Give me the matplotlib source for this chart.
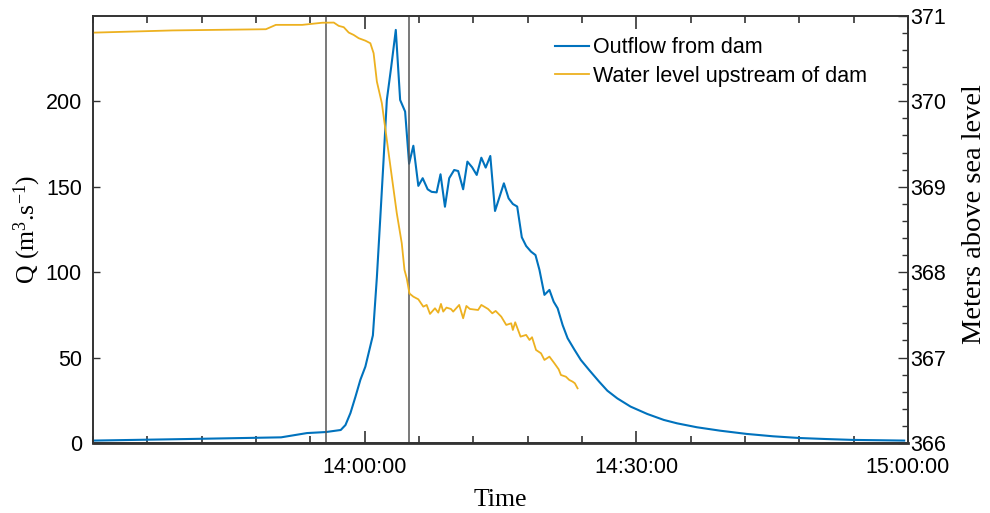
import numpy as np
import pandas as pd
import matplotlib
matplotlib.use("Agg")
import matplotlib.pyplot as plt
import matplotlib.dates as mdates
from matplotlib.ticker import MultipleLocator, FixedLocator

# outflow from dam, minutes after 13:30 and discharge (m3/s)
q_min = [0.0, 10.3, 20.77, 23.63, 25.71, 27.36, 27.88, 28.43, 28.98, 29.53,
         30.08, 30.91, 31.35, 31.73, 32.09, 32.45, 32.93, 33.44, 33.92, 34.47,
         34.91, 35.38, 35.93, 36.41, 36.96, 37.40, 37.95, 38.38, 38.87, 39.34,
         39.89, 40.33, 40.88, 41.35, 41.87, 42.38, 42.89, 43.37, 43.88, 44.40,
         45.38, 45.90, 46.37, 46.85, 47.36, 47.84, 48.38, 48.87, 49.31, 49.86,
         50.41, 50.88, 51.32, 51.87, 52.42, 53.15, 53.88, 54.80, 55.90, 56.81,
         57.91, 59.37, 61.21, 63.04, 64.51, 66.70, 69.26, 72.2, 75.13, 78.06,
         81.0, 83.92, 86.85, 89.6]
q_val = [1.4, 2.3, 3.3, 5.8, 6.4, 7.6, 10.5, 17.5, 27, 37,
         44.7, 63, 97, 132, 165.7, 200.8, 220, 241.8, 200.8, 194,
         163.5, 174, 150.5, 155, 148.5, 147, 146.7, 157.3, 138.3, 155,
         159.8, 159.2, 148.5, 164.7, 161.4, 156.9, 167, 161.2, 168, 135.8,
         152, 143.2, 139.9, 138.4, 120.4, 115.3, 112, 110, 101.3, 86.7,
         89.6, 82.7, 78.8, 69, 61.3, 54.8, 48.6, 42.7, 35.9, 30.6,
         26.1, 21.3, 17, 13.5, 11.5, 9.2, 7.2, 5.3, 3.9, 2.9,
         2.3, 1.8, 1.6, 1.4]

# water level upstream of dam (m a.s.l.)
wl_min = [0.03, 8.79, 19.09, 20.19, 23.11, 25.31, 26.59, 27.14, 27.69, 28.24,
          28.79, 29.34, 30.08, 30.63, 30.99, 31.35, 31.90, 32.45, 33.0, 33.55,
          34.10, 34.40, 34.65, 34.95, 35.38, 35.93, 36.48, 36.85, 37.22, 37.77,
          38.13, 38.43, 38.68, 39.04, 39.53, 39.78, 40.44, 40.88, 41.24, 41.62,
          42.53, 42.89, 43.63, 44.10, 44.47, 45.09, 45.64, 46.19, 46.37, 46.63,
          47.22, 47.84, 48.21, 48.49, 48.93, 49.48, 49.86, 50.41, 50.96, 51.43,
          51.68, 52.23, 52.60, 52.97, 53.22, 53.52]
wl_val = [370.804, 370.83, 370.844, 370.895, 370.895, 370.92, 370.922, 370.883, 370.868, 370.805,
          370.777, 370.739, 370.71, 370.68, 370.563, 370.231, 369.978, 369.548, 369.118, 368.69,
          368.338, 368.026, 367.928, 367.75, 367.713, 367.682, 367.596, 367.616, 367.511, 367.577,
          367.526, 367.628, 367.538, 367.585, 367.569, 367.538, 367.616, 367.46, 367.604, 367.569,
          367.557, 367.616, 367.569, 367.518, 367.546, 367.479, 367.382, 367.401, 367.323, 367.413,
          367.245, 367.265, 367.206, 367.238, 367.089, 367.05, 366.972, 367.011, 366.933, 366.863,
          366.796, 366.776, 366.738, 366.718, 366.699, 366.64]

# vertical marker lines (minutes after 13:30)
event_min = [25.7, 34.9]
# labelled x ticks (minutes after 13:30)
xtick_min = [30, 60, 90]

start = pd.Timestamp("2020-01-01 13:30:00")
to_time = lambda m: start + pd.to_timedelta(np.array(m), unit="min")

plt.rcParams["font.family"] = ["Liberation Sans", "DejaVu Sans"]
plt.rcParams["mathtext.fontset"] = "custom"
plt.rcParams["mathtext.rm"] = "Liberation Serif"
plt.rcParams["mathtext.it"] = "Liberation Serif:italic"

blue = "#0072BD"
yellow = "#EDB120"
axcol = "#333333"

fig = plt.figure(figsize=(9.9, 5.13), dpi=100)
ax = fig.add_axes([0.094, 0.1365, 0.823, 0.8325])
ax2 = ax.twinx()

l1, = ax.plot(to_time(q_min), q_val, color=blue, lw=1.5, label="Outflow from dam")
l2, = ax2.plot(to_time(wl_min), wl_val, color=yellow, lw=1.3, label="Water level upstream of dam")
for m in event_min:
    ax.axvline(start + pd.Timedelta(minutes=m), color="#555555", lw=1.1)

ax.set_xlim(start, start + pd.Timedelta(minutes=90))
ax.set_ylim(0, 250)
ax2.set_ylim(366, 371)

ax.xaxis.set_major_locator(FixedLocator(mdates.date2num(to_time(xtick_min))))
ax.xaxis.set_minor_locator(mdates.MinuteLocator(byminute=range(0, 60, 6)))
ax.xaxis.set_major_formatter(mdates.DateFormatter("%H:%M:%S"))
ax.set_yticks([0, 50, 100, 150, 200])
ax2.set_yticks([366, 367, 368, 369, 370, 371])
ax2.yaxis.set_minor_locator(MultipleLocator(0.2))

ax.tick_params(axis="x", which="both", direction="in", top=True, labelsize=15.5, colors=axcol, labelcolor="black", pad=10)
ax.tick_params(axis="x", which="major", length=9, width=1.2)
ax.tick_params(axis="x", which="minor", length=5, width=1.2)
ax.tick_params(axis="y", which="major", direction="in", length=5, width=1, labelsize=15.5, colors=axcol, labelcolor="black", pad=8)
ax2.tick_params(axis="y", which="major", direction="in", length=7, width=1, labelsize=15.5, colors=axcol, labelcolor="black", pad=2)
ax2.tick_params(axis="y", which="minor", direction="in", length=4, width=1, colors=axcol)

for a in (ax, ax2):
    for s in a.spines.values():
        s.set_color(axcol)
        s.set_linewidth(1.2)
ax.spines["bottom"].set_linewidth(2)

ax.set_xlabel("Time", family="Liberation Serif", fontsize=18.5, labelpad=8)
ax.set_ylabel(r"Q (m$^{3}$.s$^{-1}$)", family="Liberation Serif", fontsize=18.5, labelpad=2)
ax2.set_ylabel("Meters above sea level", family="Liberation Serif", fontsize=20.5)
ax2.yaxis.set_label_coords(1.067, 0.535)

ax.legend(handles=[l1, l2], loc="upper left", bbox_to_anchor=(0.567, 0.95), frameon=False,
          fontsize=15.5, handlelength=1.6, handletextpad=0.15, labelspacing=0.35,
          borderaxespad=0, borderpad=0)

fig.savefig("out.png", dpi=100)
